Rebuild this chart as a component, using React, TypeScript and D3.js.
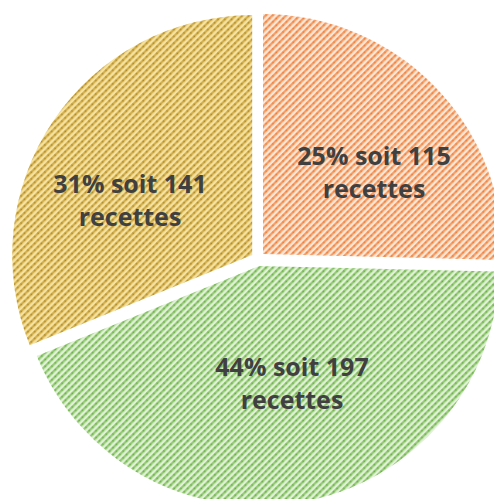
import React from "react";
import * as d3 from "d3";

const categories = ["orange", "vert", "jaune"];
const values = [115, 197, 141];
const percents = ["25%", "44%", "31%"];
const labelLine2 = ["recettes", "recettes", "recettes"];

const W = 494;
const H = 499;

const palette: Record<string, { bg: string; mid: string; dark: string }> = {
  orange: { bg: "#FDE6D6", mid: "#F5A877", dark: "#EC7E36" },
  vert: { bg: "#E0F1D6", mid: "#A3D288", dark: "#68B043" },
  jaune: { bg: "#F5E1A0", mid: "#DDBB5A", dark: "#AD8828" },
};

export default function App() {
  const cx = 258;
  const cy = 259;
  const r = 240;
  const explode = 7;
  const pie = d3.pie<number>().sort(null).value((d) => d);
  const arcs = pie(values);
  const arcGen = d3.arc<d3.PieArcDatum<number>>().innerRadius(0).outerRadius(r);
  const labelPos: [number, number][] = [
    [374, 165],
    [292, 376],
    [130, 193],
  ];
  return (
    <svg
      width={W}
      height={H}
      style={{ position: "absolute", left: 0, top: 0, background: "#fff" }}
    >
      <defs>
        {categories.map((c) => (
          <pattern
            key={c}
            id={`pat-${c}`}
            width={4.8}
            height={4.8}
            patternUnits="userSpaceOnUse"
            patternTransform="rotate(45)"
          >
            <rect width={4.8} height={4.8} fill={palette[c].bg} />
            <rect x={0} y={0} width={2.4} height={4.8} fill={palette[c].mid} />
            <rect x={0.3} y={0.6} width={1.8} height={1.8} fill={palette[c].dark} />
            <rect x={0.6} y={3.2} width={1.2} height={1.2} fill={palette[c].dark} opacity={0.55} />
          </pattern>
        ))}
      </defs>
      {arcs.map((a, i) => {
        const mid = (a.startAngle + a.endAngle) / 2;
        const dx = Math.sin(mid) * explode;
        const dy = -Math.cos(mid) * explode;
        return (
          <path
            key={i}
            d={arcGen(a) || ""}
            transform={`translate(${cx + dx},${cy + dy})`}
            fill={`url(#pat-${categories[i]})`}
          />
        );
      })}
      {arcs.map((a, i) => (
        <text
          key={`t${i}`}
          x={labelPos[i][0]}
          y={labelPos[i][1]}
          textAnchor="middle"
          fontFamily="'Open Sans', sans-serif"
          fontWeight="bold"
          fontSize={25}
          fill="#404040"
        >
          <tspan x={labelPos[i][0]}>{`${percents[i]} soit ${values[i]}`}</tspan>
          <tspan x={labelPos[i][0]} dy={33}>
            {labelLine2[i]}
          </tspan>
        </text>
      ))}
    </svg>
  );
}
